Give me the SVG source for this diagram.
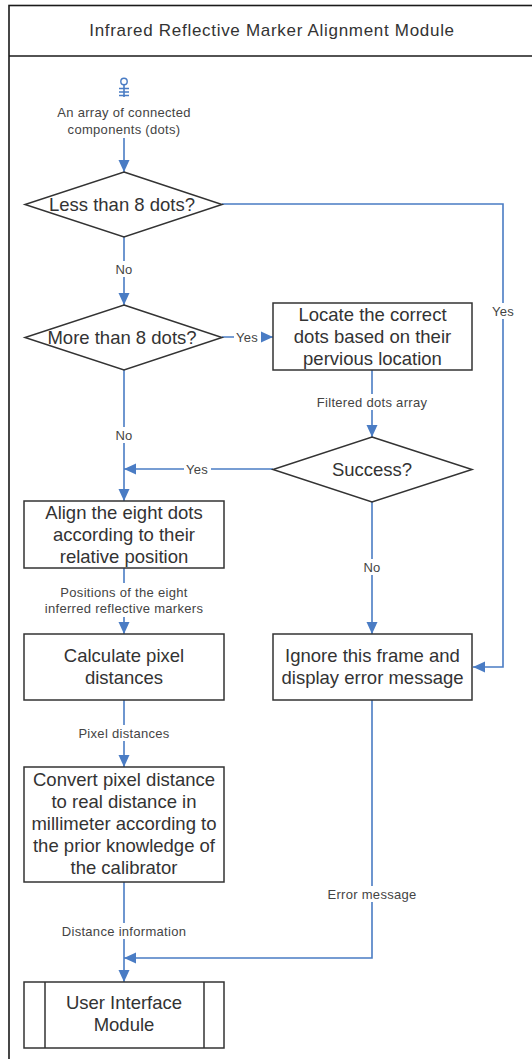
<svg xmlns="http://www.w3.org/2000/svg" width="532" height="1059" viewBox="0 0 532 1059">
<style>
.frame{fill:none;stroke:#1a1a1a;stroke-width:1.6}
.node{fill:#fff;stroke:#333;stroke-width:1.5}
.ntext{font-family:"Liberation Sans",Arial,sans-serif;font-size:18.5px;fill:#333;text-anchor:middle;dominant-baseline:central}
.ltext{font-family:"Liberation Sans",Arial,sans-serif;font-size:13px;fill:#444;text-anchor:middle;dominant-baseline:central;letter-spacing:0.3px}
.title{font-family:"Liberation Sans",Arial,sans-serif;font-size:17px;fill:#333;text-anchor:middle;dominant-baseline:central;letter-spacing:0.7px}
.conn{fill:none;stroke:#4a7cc4;stroke-width:1.6}
.lbg{fill:#fff}
</style>
<defs>
<marker id="arr" markerUnits="userSpaceOnUse" markerWidth="12" markerHeight="12" viewBox="0 0 12 12" refX="12" refY="6" orient="auto">
<path d="M0,0.5 L12,6 L0,11.5 Z" fill="#4a7cc4"/>
</marker>
</defs>
<rect width="532" height="1059" fill="#fff"/>
<g id="frame">
<rect class="frame" x="9" y="5.5" width="540" height="1070"/>
<line class="frame" x1="9" y1="56" x2="532" y2="56" stroke-width="2"/>
<text class="title" x="272" y="30">Infrared Reflective Marker Alignment Module</text>
</g>
<g id="connectors">
<path class="conn" d="M124,85 V97"/>
<path class="conn" d="M119,88.5 H129 M119,92 H129 M119,95.5 H129"/>
<path class="conn" d="M124,104 V172" marker-end="url(#arr)"/>
<path class="conn" d="M124,237 V305" marker-end="url(#arr)"/>
<path class="conn" d="M222,204 H503 V667 H473" marker-end="url(#arr)"/>
<path class="conn" d="M222,337 H273" marker-end="url(#arr)"/>
<path class="conn" d="M372,370 V437" marker-end="url(#arr)"/>
<path class="conn" d="M273,469 H124" marker-end="url(#arr)"/>
<path class="conn" d="M124,370 V501" marker-end="url(#arr)"/>
<path class="conn" d="M372,502 V634" marker-end="url(#arr)"/>
<path class="conn" d="M124,568 V634" marker-end="url(#arr)"/>
<path class="conn" d="M124,700 V767" marker-end="url(#arr)"/>
<path class="conn" d="M124,882 V982" marker-end="url(#arr)"/>
<path class="conn" d="M372,700 V958 H124" marker-end="url(#arr)"/>
<rect class="lbg" x="48" y="104" width="152" height="34"/>
<text class="ltext" x="124" y="112">An array of connected</text>
<text class="ltext" x="124" y="129">components (dots)</text>
<rect class="lbg" x="113" y="261" width="22" height="16"/>
<text class="ltext" x="124" y="269">No</text>
<rect class="lbg" x="489" y="303" width="28" height="16"/>
<text class="ltext" x="503" y="311">Yes</text>
<rect class="lbg" x="234" y="329" width="27" height="16"/>
<text class="ltext" x="247" y="337">Yes</text>
<rect class="lbg" x="313" y="394" width="118" height="16"/>
<text class="ltext" x="372" y="402">Filtered dots array</text>
<rect class="lbg" x="184" y="461" width="27" height="16"/>
<text class="ltext" x="197" y="469">Yes</text>
<rect class="lbg" x="113" y="427" width="22" height="16"/>
<text class="ltext" x="124" y="435">No</text>
<rect class="lbg" x="361" y="559" width="22" height="16"/>
<text class="ltext" x="372" y="567">No</text>
<rect class="lbg" x="38" y="583" width="172" height="34"/>
<text class="ltext" x="124" y="592">Positions of the eight</text>
<text class="ltext" x="124" y="608">inferred reflective markers</text>
<rect class="lbg" x="72" y="725" width="104" height="16"/>
<text class="ltext" x="124" y="733">Pixel distances</text>
<rect class="lbg" x="54" y="923" width="140" height="16"/>
<text class="ltext" x="124" y="931">Distance information</text>
<rect class="lbg" x="324" y="886" width="96" height="16"/>
<text class="ltext" x="372" y="894">Error message</text>
</g>
<g id="start">
<circle cx="124" cy="81.5" r="3.2" fill="#fff" stroke="#4a7cc4" stroke-width="1.4"/>
</g>
<g id="less8">
<polygon class="node" points="124,172 222,204.5 124,237 25,204.5"/>
<text class="ntext" x="122" y="204">Less than 8 dots?</text>
</g>
<g id="more8">
<polygon class="node" points="124,305 222,337.5 124,370 25,337.5"/>
<text class="ntext" x="122" y="337">More than 8 dots?</text>
</g>
<g id="locate">
<rect class="node" x="273" y="303" width="199" height="67"/>
<text class="ntext" x="372.5" y="314">Locate the correct</text>
<text class="ntext" x="372.5" y="336">dots based on their</text>
<text class="ntext" x="372.5" y="358">pervious location</text>
</g>
<g id="success">
<polygon class="node" points="372,437 472,469.5 372,502 273,469.5"/>
<text class="ntext" x="372" y="469">Success?</text>
</g>
<g id="align">
<rect class="node" x="24" y="501" width="200" height="67"/>
<text class="ntext" x="124" y="512">Align the eight dots</text>
<text class="ntext" x="124" y="534">according to their</text>
<text class="ntext" x="124" y="556">relative position</text>
</g>
<g id="calc">
<rect class="node" x="24" y="634" width="200" height="66"/>
<text class="ntext" x="124" y="655">Calculate pixel</text>
<text class="ntext" x="124" y="677">distances</text>
</g>
<g id="ignore">
<rect class="node" x="273" y="634" width="199" height="66"/>
<text class="ntext" x="372.5" y="655">Ignore this frame and</text>
<text class="ntext" x="372.5" y="677">display error message</text>
</g>
<g id="convert">
<rect class="node" x="24" y="767" width="200" height="115"/>
<text class="ntext" x="124" y="779">Convert pixel distance</text>
<text class="ntext" x="124" y="801">to real distance in</text>
<text class="ntext" x="124" y="823">millimeter according to</text>
<text class="ntext" x="124" y="845">the prior knowledge of</text>
<text class="ntext" x="124" y="867">the calibrator</text>
</g>
<g id="ui">
<rect class="node" x="24" y="982" width="200" height="66"/>
<line class="node" x1="45" y1="982" x2="45" y2="1048"/>
<line class="node" x1="204" y1="982" x2="204" y2="1048"/>
<text class="ntext" x="124" y="1002">User Interface</text>
<text class="ntext" x="124" y="1024">Module</text>
</g>
</svg>
